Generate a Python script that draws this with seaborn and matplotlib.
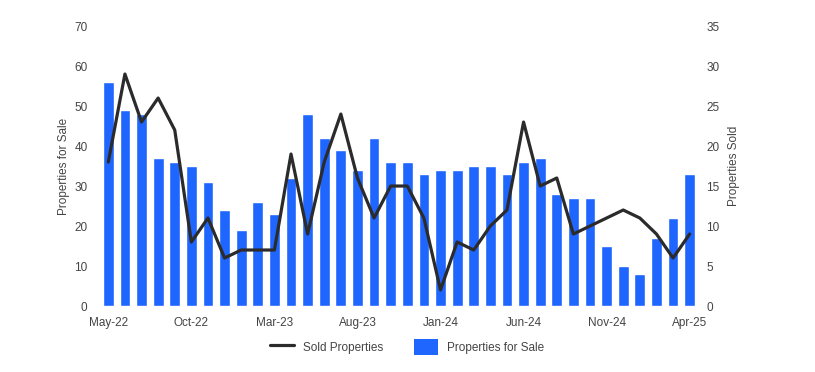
import pandas as pd
import numpy as np
from matplotlib import pyplot as plt
from matplotlib.lines import Line2D
from matplotlib.patches import Patch
import seaborn as sns

# monthly data, May-22 .. Apr-25
months = ['May-22', 'Jun-22', 'Jul-22', 'Aug-22', 'Sep-22', 'Oct-22', 'Nov-22', 'Dec-22',
          'Jan-23', 'Feb-23', 'Mar-23', 'Apr-23', 'May-23', 'Jun-23', 'Jul-23', 'Aug-23',
          'Sep-23', 'Oct-23', 'Nov-23', 'Dec-23', 'Jan-24', 'Feb-24', 'Mar-24', 'Apr-24',
          'May-24', 'Jun-24', 'Jul-24', 'Aug-24', 'Sep-24', 'Oct-24', 'Nov-24', 'Dec-24',
          'Jan-25', 'Feb-25', 'Mar-25', 'Apr-25']
for_sale = [56, 49, 48, 37, 36, 35, 31, 24, 19, 26, 23, 32, 48, 42, 39, 34,
            42, 36, 36, 33, 34, 34, 35, 35, 33, 36, 37, 28, 27, 27, 15, 10,
            8, 17, 22, 33]
sold = [18, 29, 23, 26, 22, 8, 11, 6, 7, 7, 7, 19, 9, 18, 24, 16,
        11, 15, 15, 11, 2, 8, 7, 10, 12, 23, 15, 16, 9, 10, 11, 12,
        11, 9, 6, 9]

df = pd.DataFrame({'month': months, 'for_sale': for_sale, 'sold': sold})
df['idx'] = np.arange(len(df))

sns.set_style("white")
plt.rcParams['font.family'] = ['Liberation Sans', 'DejaVu Sans']

bar_color = '#1f66ff'
line_color = '#2b2b2b'
text_color = '#444444'

fig = plt.figure(figsize=(8.15, 3.72), dpi=100)
ax = fig.add_axes([0.1227, 0.1774, 0.7337, 0.7526])

sns.barplot(data=df, x='month', y='for_sale', color=bar_color, saturation=1,
            width=0.65, ax=ax)
ax.set_xlim(-0.5, len(df) - 0.5)
ax.set_ylim(0, 70)
ax.set_yticks(range(0, 71, 10))
ax.set_xticks(df['idx'][::5])
ax.set_xticklabels(df['month'][::5])
ax.set_xlabel('')
ax.set_ylabel('Properties for Sale', color=text_color, fontsize=8.5, labelpad=3)

ax2 = ax.twinx()
sns.lineplot(data=df, x='idx', y='sold', color=line_color, linewidth=2.3, ax=ax2)
ax2.set_ylim(0, 35)
ax2.set_yticks(range(0, 36, 5))
ax2.set_xlim(-0.5, len(df) - 0.5)
ax2.set_ylabel('Properties Sold', color=text_color, fontsize=8.5, labelpad=6)

for a in (ax, ax2):
    for s in a.spines.values():
        s.set_visible(False)
    a.tick_params(length=0, labelsize=8.5, labelcolor=text_color)
ax.tick_params(axis='x', pad=8)
ax.tick_params(axis='y', pad=9)
ax2.tick_params(axis='y', pad=6)

handles = [Line2D([0], [0], color=line_color, linewidth=2.3),
           Patch(facecolor=bar_color, edgecolor='none')]
fig.legend(handles, ['Sold Properties', 'Properties for Sale'], loc='center',
           bbox_to_anchor=(0.5, 0.067), ncol=2, frameon=False, fontsize=8.5,
           handlelength=2.0, handleheight=1.7, columnspacing=2.6,
           labelcolor=text_color)

plt.savefig('out.png', dpi=100)
